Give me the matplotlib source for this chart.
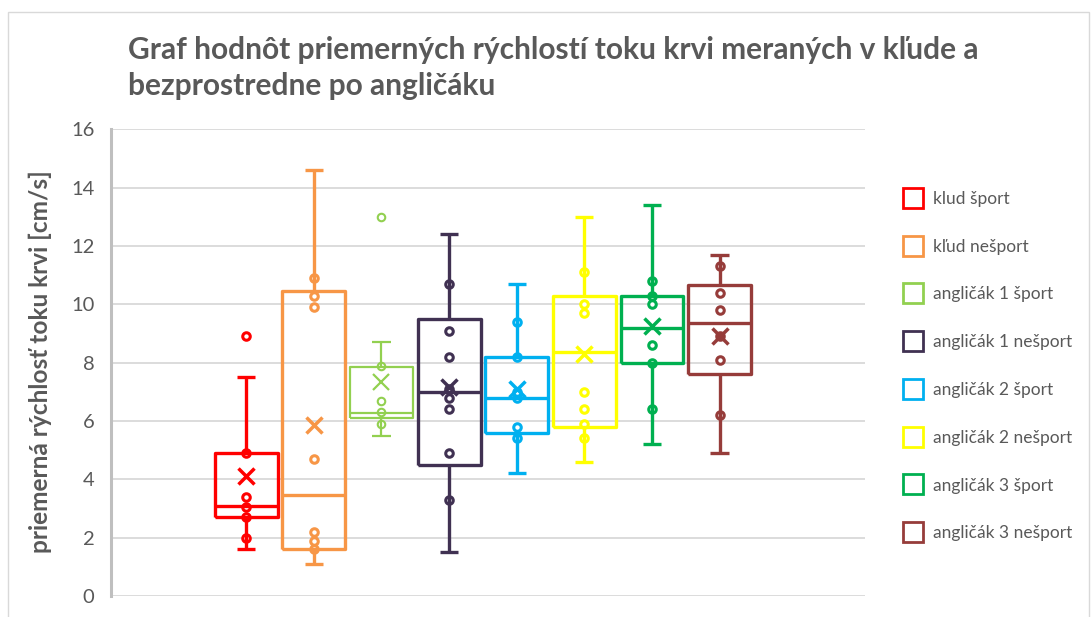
import matplotlib
matplotlib.use("Agg")
import matplotlib.pyplot as plt
from matplotlib.lines import Line2D
from matplotlib.patches import Rectangle

plt.rcParams['font.family'] = ['Lato', 'DejaVu Sans']

# groups and colours
labels = ['klud šport', 'kľud nešport', 'angličák 1 šport', 'angličák 1 nešport',
          'angličák 2 šport', 'angličák 2 nešport', 'angličák 3 šport', 'angličák 3 nešport']
colors = ['#FF0000', '#F79646', '#92D050', '#403152',
          '#00B0F0', '#FFFF00', '#00B050', '#963C3A']

# box statistics
whis_lo = [1.6, 1.1, 5.5, 1.5, 4.2, 4.6, 5.2, 4.9]
q1 = [2.7, 1.6, 6.1, 4.5, 5.6, 5.8, 8.0, 7.6]
median = [3.1, 3.45, 6.28, 7.0, 6.8, 8.35, 9.2, 9.35]
q3 = [4.9, 10.45, 7.85, 9.5, 8.2, 10.3, 10.3, 10.65]
whis_hi = [7.5, 14.6, 8.7, 12.4, 10.7, 13.0, 13.4, 11.7]
means = [4.1, 5.86, 7.35, 7.15, 7.1, 8.3, 9.25, 8.9]

# individual points (inner points and outliers)
points = [
    [2.0, 2.7, 3.05, 3.4, 4.9, 8.9],
    [1.6, 1.9, 2.2, 4.7, 9.9, 10.3, 10.9],
    [5.9, 6.3, 6.7, 7.9, 13.0],
    [3.3, 4.9, 6.4, 6.8, 7.1, 8.2, 9.1, 10.7],
    [5.4, 5.8, 6.8, 7.0, 8.2, 9.4],
    [5.4, 5.9, 6.4, 7.0, 9.7, 10.0, 11.1],
    [6.4, 8.0, 8.6, 10.0, 10.3, 10.8],
    [6.2, 8.1, 8.9, 9.8, 10.4, 11.3],
]

title = ('Graf hodnôt priemerných rýchlostí toku krvi meraných v kľude a\n'
         'bezprostredne po angličáku')
ylabel = 'priemerná rýchlosť toku krvi [cm/s]'
gray = '#595959'

W, H = 1091, 617
fig = plt.figure(figsize=(W / 100, H / 100), dpi=100)
ax = fig.add_axes([111 / W, 1 - 596 / H, (865 - 111) / W, (596 - 129.3) / H])

for i in range(len(labels)):
    c = colors[i]
    thin = (i == 2)
    lw = 1.6 if thin else 2.4
    st = [dict(whislo=whis_lo[i], q1=q1[i], med=median[i], q3=q3[i],
               whishi=whis_hi[i], mean=means[i], fliers=[])]
    line = dict(color=c, linewidth=lw, solid_capstyle='butt')
    ax.bxp(st, positions=[i + 1], widths=0.93, capwidths=0.27,
           showmeans=True, showfliers=False, manage_ticks=False,
           boxprops=line, whiskerprops=line, capprops=line, medianprops=line,
           meanprops=dict(marker='x', markeredgecolor=c, markersize=11,
                          markeredgewidth=1.6 if thin else 2.5, zorder=5))
    ax.plot([i + 1] * len(points[i]), points[i], linestyle='none', marker='o',
            markersize=5.4, markerfacecolor='white', markeredgecolor=c,
            markeredgewidth=1.5 if thin else 2.2, zorder=1.5)

ax.set_xlim(-1.0, 10.15)
ax.set_ylim(0, 16)
ax.set_yticks(range(0, 17, 2))
ax.set_xticks([])
ax.yaxis.grid(True, color='#D9D9D9', linewidth=1.3)
ax.set_axisbelow(True)
for s in ['top', 'right', 'bottom']:
    ax.spines[s].set_visible(False)
ax.spines['left'].set_color('#BFBFBF')
ax.spines['left'].set_linewidth(2.2)
ax.tick_params(axis='y', length=0, pad=12, labelsize=14.5, labelcolor=gray)

fig.text(128 / W, 1 - 36 / H, title, ha='left', va='top', fontsize=21.5,
         fontweight='bold', color=gray, linespacing=1.36)
fig.text(40 / W, 1 - 362 / H, ylabel, rotation=90, ha='center', va='center',
         fontsize=17.6, fontweight='bold', color=gray)

handles = [Line2D([], [], linestyle='none', marker='s', markersize=14.6,
                  markerfacecolor='white', markeredgecolor=c, markeredgewidth=2.0)
           for c in colors]
fig.legend(handles, labels, loc='upper left', bbox_to_anchor=(895 / W, 1 - 184 / H),
           frameon=False, fontsize=12.5, labelcolor=gray, labelspacing=1.83,
           handlelength=1.3, handletextpad=0.5, borderaxespad=0)

fig.add_artist(Rectangle((8 / W, -0.01), (1089 - 8) / W, 1.01 - 12 / H,
                         transform=fig.transFigure, fill=False,
                         edgecolor='#D9D9D9', linewidth=1))

fig.savefig('out.png', dpi=100)
